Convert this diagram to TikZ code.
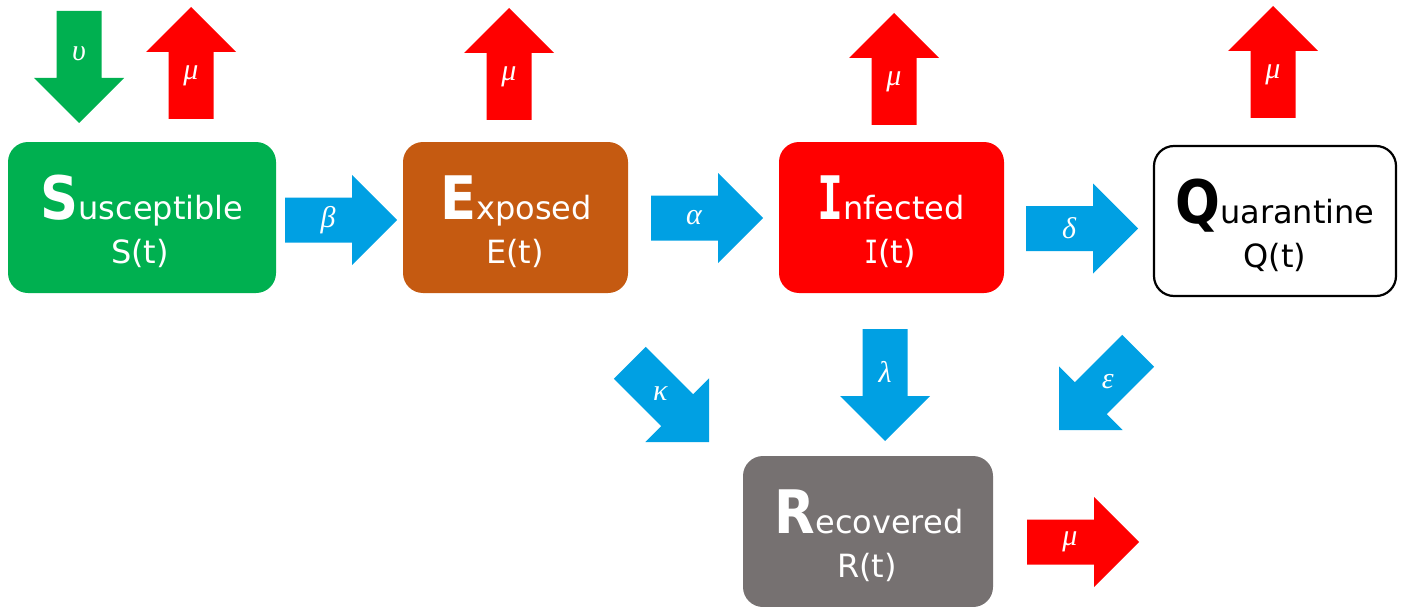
\documentclass[tikz,border=0pt]{standalone}
\usepackage{fontspec}
\usepackage{graphicx}
\setmainfont{DejaVu Sans}
\newfontfamily\greekfont{Liberation Serif}
\newfontfamily\slabfont{DejaVu Sans Mono}

\definecolor{sgreen}{RGB}{0,176,80}
\definecolor{ebrown}{RGB}{197,90,17}
\definecolor{ired}{RGB}{255,0,0}
\definecolor{rgrey}{RGB}{118,113,113}
\definecolor{flowblue}{RGB}{0,160,227}

% large initial letter of a compartment name
\newcommand\initial[1]{{\fontsize{60}{60}\selectfont\bfseries\scalebox{0.88}[1]{#1}}}
% capital I with slab serifs
\newcommand\slabI{\scalebox{0.72}[1]{\slabfont I}}

\tikzset{
  compartment/.style={rounded corners=20pt, inner sep=0pt, minimum height=151pt},
  cname/.style={anchor=base, inner sep=0pt, font=\fontsize{32}{38}\selectfont},
  rate/.style={inner sep=0pt, text=white, font=\greekfont\itshape\fontsize{30}{30}\selectfont},
  % block arrow: tail centre at the origin, pointing along +x
  pics/blockarrow/.style 2 args={code={
    \fill[#1] (0,-22.5) -- (67,-22.5) -- (67,-45) -- (112,0) -- (67,45)
      -- (67,22.5) -- (0,22.5) -- cycle;
    \node[rate] (-rate) at (43,0) {#2};
  }}
}

\begin{document}
\begin{tikzpicture}[x=1pt,y=-1pt]
\useasboundingbox (0,0) rectangle (1407,607);

% compartments
\node[compartment, fill=sgreen, minimum width=268pt] (S) at (142,217.5) {};
\node[compartment, fill=ebrown, minimum width=225pt] (E) at (515.5,217.5) {};
\node[compartment, fill=ired, minimum width=225pt] (I) at (891.5,217.5) {};
\node[compartment, fill=white, draw=black, line width=2.2pt, minimum width=242pt, minimum height=150pt] (Q) at (1275,221) {};
\node[compartment, fill=rgrey, minimum width=250pt] (R) at (868,531.5) {};

% compartment labels
\node[cname, text=white] (S-name) at (142,219) {\initial{S}usceptible};
\node[cname, text=white] (S-fun) at (140,263) {S(t)};
\node[cname, text=white] (E-name) at (516,219) {\initial{E}xposed};
\node[cname, text=white] (E-fun) at (515,263) {E(t)};
\node[cname, text=white] (I-name) at (891,219) {{\fontsize{60}{60}\selectfont\bfseries\slabI}nfected};
\node[cname, text=white] (I-fun) at (890,263) {\slabI(t)};
\node[cname, text=black] (Q-name) at (1275,223) {\initial{Q}uarantine};
\node[cname, text=black] (Q-fun) at (1275,267) {Q(t)};
\node[cname, text=white] (R-name) at (869,533) {\initial{R}ecovered};
\node[cname, text=white] (R-fun) at (867,577) {R(t)};

% recruitment
\pic[rotate=-90] (nu) at (79,11) {blockarrow={sgreen}{υ}};

% natural deaths
\pic[rotate=90] (muS) at (191,119) {blockarrow={ired}{μ}};
\pic[rotate=90] (muE) at (509,120) {blockarrow={ired}{μ}};
\pic[rotate=90] (muI) at (894,125) {blockarrow={ired}{μ}};
\pic[rotate=90] (muQ) at (1273,118) {blockarrow={ired}{μ}};
\pic (muR) at (1027,542) {blockarrow={ired}{μ}};

% transitions between compartments
\pic (beta) at (285,220) {blockarrow={flowblue}{β}};
\pic (alpha) at (651,218) {blockarrow={flowblue}{α}};
\pic (delta) at (1026,228.5) {blockarrow={flowblue}{δ}};
\pic[rotate=-90] (lambda) at (885,329) {blockarrow={flowblue}{λ}};
\pic[rotate=-45] (kappa) at (629.8,362.8) {blockarrow={flowblue}{κ}};
\pic[rotate=-135] (eps) at (1138.2,350.8) {blockarrow={flowblue}{ε}};
\end{tikzpicture}
\end{document}
